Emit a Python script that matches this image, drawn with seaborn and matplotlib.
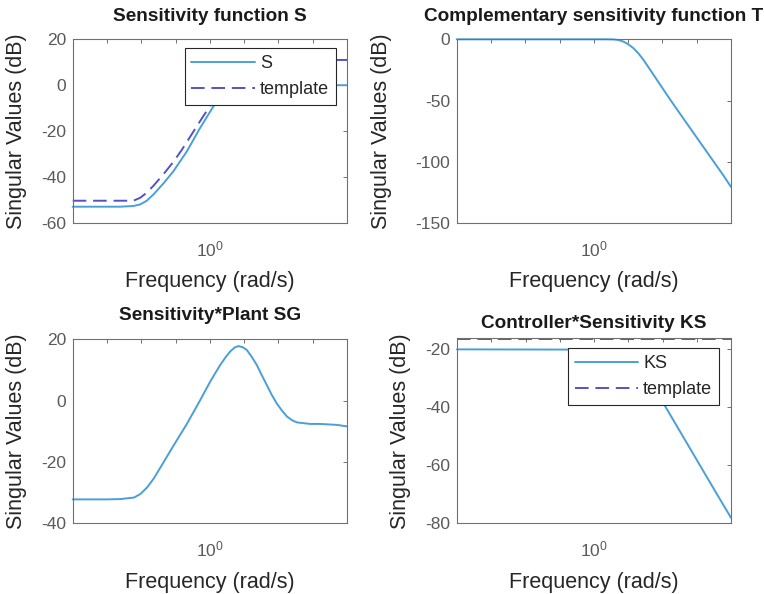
import numpy as np
import pandas as pd
import matplotlib
matplotlib.use("Agg")
import matplotlib.pyplot as plt
import seaborn as sns
from matplotlib.ticker import FixedLocator, FixedFormatter, NullFormatter

# ---------------- data (x = log10 frequency [rad/s], y = magnitude [dB]) ----------------
s_logw = [-4.0, -3.0, -2.61, -2.23, -2.03, -1.84, -1.64, -1.35, -1.06, -0.67,
          -0.30, 0.087, 0.4, 0.8, 1.5, 2.5, 3.5, 4.0]
s_db = [-52.9, -52.9, -52.9, -52.6, -51.9, -50.3, -47.5, -42.7, -37.4, -28.8,
        -19.0, -9.6, -3.0, 0.5, 0.2, 0.0, 0.0, 0.0]

ws_logw = [-4.0, -3.0, -2.61, -2.23, -2.03, -1.84, -1.64, -1.35, -1.06, -0.82,
           -0.30, 0.087, 0.5, 1.0, 1.5, 2.5, 4.0]
ws_db = [-50.3, -50.3, -50.3, -50.3, -49.0, -46.8, -43.7, -38.7, -33.3, -28.2,
         -16.0, -7.1, 1.5, 8.0, 10.3, 11.0, 11.0]

t_logw = [-4.0, 0.3, 0.573, 0.72, 0.865, 1.0, 1.156, 1.3, 1.448, 1.837, 2.225,
          2.614, 3.003, 3.392, 3.780, 4.0]
t_db = [0.0, 0.0, -0.1, -0.6, -1.9, -4.0, -7.3, -11.5, -16.8, -33.0, -49.2,
        -64.8, -80.3, -95.8, -111.2, -120.5]

sg_logw = [-4.0, -3.0, -2.61, -2.21, -2.02, -1.83, -1.63, -1.34, -1.05, -0.66,
           -0.28, 0.01, 0.30, 0.45, 0.59, 0.72, 0.835, 0.96, 1.08, 1.22, 1.37,
           1.51, 1.66, 1.80, 1.95, 2.10, 2.25, 2.40, 2.54, 2.93, 3.22, 3.70, 4.0]
sg_db = [-32.2, -32.2, -32.1, -31.6, -30.4, -28.3, -25.3, -19.9, -14.5, -7.4,
         0.2, 6.2, 11.6, 14.0, 16.0, 17.3, 17.8, 17.4, 16.5, 14.3, 11.6,
         8.4, 5.1, 2.0, -0.9, -3.2, -5.2, -6.4, -7.1, -7.6, -7.6, -7.9, -8.4]

ks_logw = [-4.0, 0.3, 0.6, 1.0, 1.5, 2.08, 2.5, 3.0, 3.5, 4.0]
ks_db = [-20.2, -20.3, -20.6, -22.5, -29.5, -39.8, -48.2, -58.2, -68.2, -78.1]

wks_logw = [-4.0, 4.0]
wks_db = [-16.5, -16.5]

titles = ["Sensitivity function S", "Complementary sensitivity function T",
          "Sensitivity*Plant SG", "Controller*Sensitivity KS"]
xlabel = "Frequency (rad/s)"
ylabel = "Singular Values (dB)"
yticks_s = [-60, -40, -20, 0, 20]
yticks_t = [-150, -100, -50, 0]
yticks_sg = [-40, -20, 0, 20]
yticks_ks = [-80, -60, -40, -20]

# ---------------- style ----------------
sns.set_theme(style="white")
plt.rcParams["font.family"] = ["Liberation Sans", "DejaVu Sans"]
plt.rcParams["mathtext.fontset"] = "custom"
plt.rcParams["mathtext.rm"] = "Liberation Sans"
plt.rcParams["mathtext.it"] = "Liberation Sans:italic"
plt.rcParams["mathtext.bf"] = "Liberation Sans:bold"
plt.rcParams["axes.unicode_minus"] = False

SOLID = "#4a9fd8"
DASH = "#5252c8"
SPINE = "#707070"
TICKC = "#5a5a5a"
LABELC = "#262626"

fig = plt.figure(figsize=(7.64, 5.94), dpi=100)
W, H = 764.0, 594.0


def make_ax(x0, x1, y0, y1):
    return fig.add_axes([x0 / W, 1 - y1 / H, (x1 - x0) / W, (y1 - y0) / H])


ax_s = make_ax(72.7, 347.0, 39.3, 223.0)
ax_t = make_ax(456.7, 731.0, 39.3, 223.0)
ax_sg = make_ax(72.7, 347.0, 339.3, 523.3)
ax_ks = make_ax(457.0, 731.0, 338.3, 523.3)


def freq(logs):
    return np.power(10.0, np.asarray(logs, dtype=float))


def curve(ax, logs, db, color, dashed=False, label=None):
    kw = dict(x=freq(logs), y=np.asarray(db, dtype=float), ax=ax, color=color,
              sort=False, estimator=None, clip_on=False)
    if dashed:
        kw["linewidth"] = 1.4
        kw["linestyle"] = (0, (7, 3.5))
    else:
        kw["linewidth"] = 1.4
    if label is not None:
        kw["label"] = label
    sns.lineplot(**kw)


def style(ax, title, title_pad, yticks, ylim, ylab_x):
    ax.set_xscale("log")
    ax.set_xlim(1e-4, 1e4)
    ax.set_ylim(*ylim)
    ax.xaxis.set_major_locator(FixedLocator([1.0]))
    ax.xaxis.set_major_formatter(FixedFormatter([r"$\mathdefault{10^{0}}$"]))
    ax.xaxis.set_minor_locator(FixedLocator([1e-3, 1e-2, 1e-1, 1e1, 1e2, 1e3]))
    ax.xaxis.set_minor_formatter(NullFormatter())
    ax.yaxis.set_major_locator(FixedLocator(yticks))
    ax.tick_params(axis="both", which="both", direction="in", top=True, right=True,
                   length=3, width=0.7, color=SPINE, labelcolor=TICKC,
                   labelsize=12.5)
    ax.tick_params(axis="x", which="major", pad=12)
    ax.tick_params(axis="y", which="major", pad=4.5)
    for sp in ax.spines.values():
        sp.set_color(SPINE)
        sp.set_linewidth(0.8)
        sp.set_visible(True)
    ax.set_title(title, fontsize=13.7, fontweight="bold", color="#1a1a1a", pad=title_pad)
    ax.set_xlabel(xlabel, fontsize=15.5, color=LABELC)
    ax.set_ylabel(ylabel, fontsize=15.5, color=LABELC)
    ax.xaxis.set_label_coords(0.5, -0.262)
    ax.yaxis.set_label_coords(ylab_x, 0.5)
    ax.grid(False)
    ax.set_facecolor("white")


def legend(ax, anchor):
    leg = ax.legend(loc="upper right", bbox_to_anchor=anchor, frameon=True,
                    fancybox=False, edgecolor="#262626", framealpha=1,
                    fontsize=13, handlelength=3.5, handletextpad=0.3,
                    borderpad=0.38, labelspacing=0.5, borderaxespad=0)
    leg.get_frame().set_linewidth(0.8)
    for t in leg.get_texts():
        t.set_color(LABELC)
    leg.set_zorder(10)


# S
curve(ax_s, s_logw, s_db, SOLID, label="S")
curve(ax_s, ws_logw, ws_db, DASH, dashed=True, label="template")
style(ax_s, titles[0], 13, yticks_s, (-60, 20), -0.165)
legend(ax_s, (0.960, 0.951))

# T
curve(ax_t, t_logw, t_db, SOLID)
style(ax_t, titles[1], 13.4, yticks_t, (-150, 0), -0.235)

# SG
curve(ax_sg, sg_logw, sg_db, SOLID)
style(ax_sg, titles[2], 14, yticks_sg, (-40, 20), -0.166)

# KS
curve(ax_ks, ks_logw, ks_db, SOLID, label="KS")
curve(ax_ks, wks_logw, wks_db, DASH, dashed=True, label="template")
style(ax_ks, titles[3], 7.4, yticks_ks, (-80, -16.4), -0.167)
legend(ax_ks, (0.957, 0.946))

fig.savefig("out.png", dpi=100, facecolor="white")
